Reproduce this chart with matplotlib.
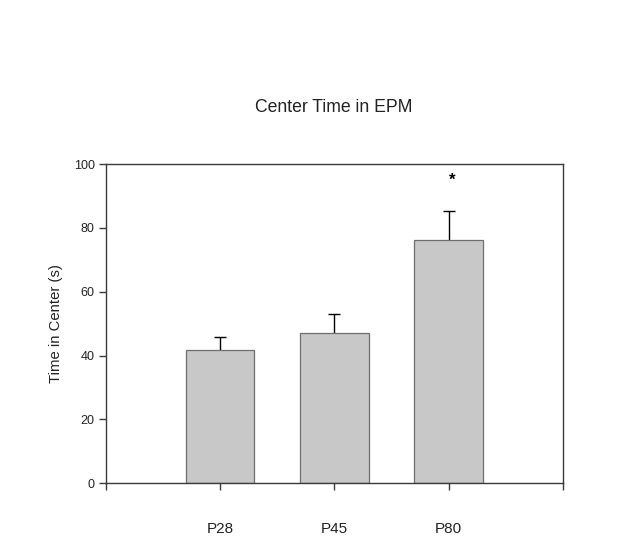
import matplotlib.pyplot as plt
import numpy as np

plt.rcParams['font.family'] = ['Liberation Sans', 'DejaVu Sans']

# group means and SEM for time spent in the center of the EPM
groups = ['P28', 'P45', 'P80']
center_time = [41.7, 47.1, 76.3]
center_sem = [4.0, 5.8, 8.9]
sig_marks = ['', '', '*']

fig = plt.figure(figsize=(6.39, 5.55), dpi=100)
ax = fig.add_axes([0.1654, 0.1292, 0.7157, 0.5753])

x = np.arange(1, len(groups) + 1)
ax.bar(x, center_time, width=0.6, color='#c8c8c8', edgecolor='#6e6e6e', linewidth=0.9, zorder=2)
# error bars sit behind the bars so only the upper half shows
ax.errorbar(x, center_time, yerr=center_sem, fmt='none',
            ecolor='black', elinewidth=1.0, capsize=4.5, capthick=1.0, zorder=1)

for xi, mark in zip(x, sig_marks):
    if mark:
        ax.text(xi + 0.03, 92.5, mark, ha='center', va='bottom', fontsize=12, fontweight='bold')

ax.set_xlim(0, 4)
ax.set_ylim(0, 100)
ax.set_xticks(np.arange(0, 5))
ax.set_xticklabels([''] + groups + [''])
ax.set_yticks(np.arange(0, 101, 20))

for side in ax.spines.values():
    side.set_color('#3a3a3a')
    side.set_linewidth(1.0)
ax.tick_params(axis='both', direction='out', length=5, width=1.0, color='#3a3a3a',
               labelcolor='#222222')
ax.tick_params(axis='x', pad=23, labelsize=11)
ax.tick_params(axis='y', pad=3, labelsize=9)

fig.text(56 / 639, 1 - 324 / 555, 'Time in Center (s)', rotation=90, ha='center', va='center',
         fontsize=10.7, color='#222222')
fig.text(334 / 639, 1 - 107 / 555, 'Center Time in EPM', ha='center', va='center',
         fontsize=12.7, color='#222222')

fig.savefig('out.png', dpi=100)
